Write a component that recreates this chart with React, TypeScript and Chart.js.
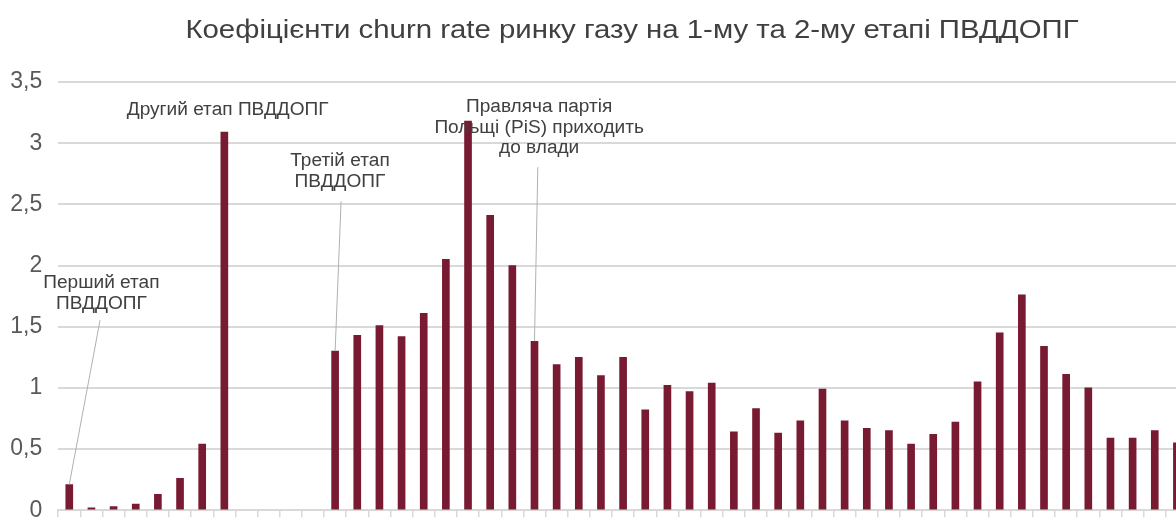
import { useEffect, useRef } from "react";
import { Chart, registerables } from "chart.js";

Chart.register(...registerables);

// Churn rate coefficients per period; gaps are periods without data.
const churnRate: (number | null)[] = [
  0.21, 0.02, 0.03, 0.05, 0.13, 0.26, 0.54, 3.09,
  null, null, null, null,
  1.30, 1.43, 1.51, 1.42, 1.61, 2.05, 3.18, 2.41, 2.00, 1.38,
  1.19, 1.25, 1.10, 1.25, 0.82, 1.02, 0.97, 1.04, 0.64, 0.83,
  0.63, 0.73, 0.99, 0.73, 0.67, 0.65, 0.54, 0.62, 0.72, 1.05,
  1.45, 1.76, 1.34, 1.11, 1.00, 0.59, 0.59, 0.65, 0.55,
];

const categories: string[] = churnRate.map((_, i) => `P${i + 1}`);

const yTickValues: number[] = [0, 0.5, 1, 1.5, 2, 2.5, 3, 3.5];

const chartTitle = "Коефіцієнти churn rate ринку газу на 1-му та 2-му етапі ПВДДОПГ";

const calloutTexts: string[][] = [
  ["Перший етап", "ПВДДОПГ"],
  ["Другий етап ПВДДОПГ"],
  ["Третій етап", "ПВДДОПГ"],
  ["Правляча партія", "Польщі (PiS) приходить", "до влади"],
];

// Bar each callout points at (-1 = no leader line).
const calloutBars: number[] = [0, -1, 12, 21];

const FONT = '"Liberation Sans", Arial, Helvetica, sans-serif';

// Placement of the callouts in data space: text centre (category units),
// first baseline (value units) and the upper end of the leader line.
const calloutPlacement = [
  { tx: 1.45, ty: 1.818, lx: 1.39, ly: 1.553 },
  { tx: 7.15, ty: 3.23, lx: 0, ly: 0 },
  { tx: 12.22, ty: 2.813, lx: 12.27, ly: 2.524 },
  { tx: 21.21, ty: 3.257, lx: 21.15, ly: 2.803 },
];

// Centred text with a slight horizontal stretch.
function drawStretched(ctx: CanvasRenderingContext2D, text: string, x: number, y: number, sx: number) {
  ctx.save();
  ctx.translate(x, y);
  ctx.scale(sx, 1);
  ctx.fillText(text, 0, 0);
  ctx.restore();
}

const calloutPlugin = {
  id: "callouts",
  afterDatasetsDraw(chart: any) {
    const { ctx, scales } = chart;
    const xs = scales.x;
    const ys = scales.y;
    const step = xs.getPixelForValue(1) - xs.getPixelForValue(0);
    const xAt = (v: number) => xs.getPixelForValue(0) + v * step;
    ctx.save();
    calloutTexts.forEach((lines, i) => {
      const p = calloutPlacement[i];
      ctx.font = `18px ${FONT}`;
      ctx.fillStyle = "#404040";
      ctx.textAlign = "center";
      ctx.textBaseline = "alphabetic";
      const y0 = ys.getPixelForValue(p.ty);
      lines.forEach((line, k) => drawStretched(ctx, line, xAt(p.tx), y0 + k * 20.8, 1.06));
      const bar = calloutBars[i];
      if (bar >= 0) {
        const v = churnRate[bar] ?? 0;
        ctx.beginPath();
        ctx.strokeStyle = "#b0b0b0";
        ctx.lineWidth = 1;
        ctx.moveTo(xAt(p.lx), ys.getPixelForValue(p.ly));
        ctx.lineTo(xs.getPixelForValue(bar), ys.getPixelForValue(v));
        ctx.stroke();
      }
    });
    ctx.restore();
  },
};

const titlePlugin = {
  id: "chartTitleText",
  afterDraw(chart: any) {
    const { ctx } = chart;
    ctx.save();
    ctx.font = `26px ${FONT}`;
    ctx.fillStyle = "#404040";
    ctx.textAlign = "center";
    ctx.textBaseline = "alphabetic";
    drawStretched(ctx, chartTitle, 632, 38, 1.13);
    ctx.restore();
  },
};

export default function App() {
  const canvasRef = useRef<HTMLCanvasElement | null>(null);

  useEffect(() => {
    const canvas = canvasRef.current;
    if (!canvas) return;
    const chart = new Chart(canvas, {
      type: "bar",
      data: {
        labels: categories,
        datasets: [
          {
            data: churnRate,
            backgroundColor: "#771a32",
            borderWidth: 0,
            barThickness: 7,
          },
        ],
      },
      options: {
        animation: false,
        responsive: false,
        devicePixelRatio: 1,
        layout: { padding: { top: 82, left: 0, right: 0, bottom: 17 } },
        plugins: {
          legend: { display: false },
          title: { display: false },
          tooltip: { enabled: false },
        },
        scales: {
          x: {
            afterFit: (scale: any) => {
              scale.height = 6.5;
            },
            ticks: { display: false },
            grid: {
              offset: true,
              drawOnChartArea: false,
              drawTicks: true,
              tickLength: 7,
              color: "#d9d9d9",
              lineWidth: 1.5,
            },
            border: { display: true, color: "#d9d9d9", width: 2 },
          },
          y: {
            min: 0,
            max: 3.5,
            afterFit: (scale: any) => {
              scale.width = 58.2;
            },
            afterBuildTicks: (scale: any) => {
              scale.ticks = yTickValues.map((v) => ({ value: v }));
            },
            ticks: {
              padding: 16,
              color: "#595959",
              font: { family: FONT, size: 23 },
              callback: (v: any) => String(v).replace(".", ","),
            },
            grid: { color: "#d9d9d9", lineWidth: 2, drawTicks: false },
            border: { display: false },
          },
        },
      },
      plugins: [calloutPlugin, titlePlugin],
    });
    return () => chart.destroy();
  }, []);

  return (
    <div
      style={{
        position: "absolute",
        left: 0,
        top: 0,
        width: 1176,
        height: 523,
        overflow: "hidden",
        background: "#ffffff",
      }}
    >
      <canvas ref={canvasRef} width={1188} height={540} style={{ display: "block" }} />
    </div>
  );
}
